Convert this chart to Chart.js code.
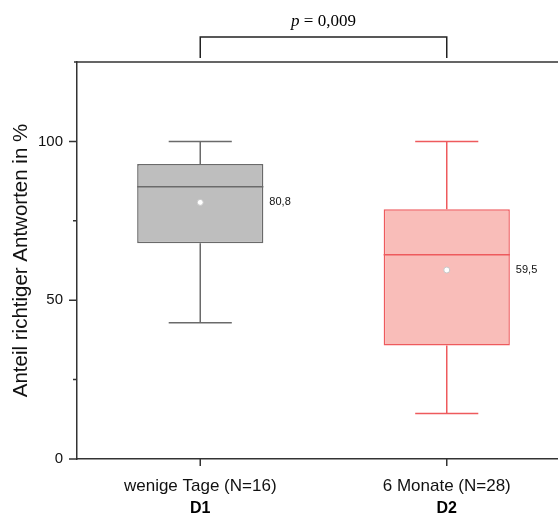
<!DOCTYPE html>
<html>
<head>
<meta charset="utf-8">
<script src="https://cdn.jsdelivr.net/npm/chart.js@4.4.1/dist/chart.umd.min.js"></script>
<style>
  html, body { margin: 0; padding: 0; background: #fff; overflow: hidden; }
  #wrap { width: 558px; height: 515px; overflow: hidden; }
</style>
</head>
<body>
<div id="wrap"><canvas id="myChart" width="575" height="515"></canvas></div>
<script>
const categories = ['wenige Tage (N=16)', '6 Monate (N=28)'];
const groups = ['D1', 'D2'];
const whiskerMin = [42.9, 14.3];
const q1 = [67.9, 35.7];
const median = [85.7, 64.3];
const q3 = [92.9, 78.6];
const whiskerMax = [100, 100];
const means = [80.8, 59.5];
const meanLabels = ['80,8', '59,5'];
const yTicks = [0, 25, 50, 75, 100, 125];
const yLabels = [0, 50, 100];

const fills = ['#bebebe', '#f9bdb9'];
const strokes = ['#6a6a6a', '#ee5a5d'];
const axisColor = '#333';
const sans = '"Liberation Sans", Arial, sans-serif';

const boxExtras = {
  id: 'boxExtras',
  afterDatasetsDraw(chart) {
    const { ctx, scales: { y } } = chart;
    const meta = chart.getDatasetMeta(0);
    ctx.save();
    meta.data.forEach((bar, i) => {
      const cx = bar.x;
      const half = bar.width / 2;
      const cap = bar.width / 4;
      ctx.strokeStyle = strokes[i];
      ctx.lineWidth = 1.5;
      ctx.beginPath();
      // whiskers
      ctx.moveTo(cx, y.getPixelForValue(q3[i]));
      ctx.lineTo(cx, y.getPixelForValue(whiskerMax[i]));
      ctx.moveTo(cx - cap, y.getPixelForValue(whiskerMax[i]));
      ctx.lineTo(cx + cap, y.getPixelForValue(whiskerMax[i]));
      ctx.moveTo(cx, y.getPixelForValue(q1[i]));
      ctx.lineTo(cx, y.getPixelForValue(whiskerMin[i]));
      ctx.moveTo(cx - cap, y.getPixelForValue(whiskerMin[i]));
      ctx.lineTo(cx + cap, y.getPixelForValue(whiskerMin[i]));
      // median
      ctx.moveTo(cx - half, y.getPixelForValue(median[i]));
      ctx.lineTo(cx + half, y.getPixelForValue(median[i]));
      ctx.stroke();
      // mean label
      ctx.fillStyle = '#111';
      ctx.font = '11px ' + sans;
      ctx.textAlign = 'left';
      ctx.textBaseline = 'middle';
      ctx.fillText(meanLabels[i], cx + half + 6, y.getPixelForValue(means[i]));
    });
    ctx.restore();
  },
  afterDraw(chart) {
    const { ctx, chartArea, scales: { x, y } } = chart;
    ctx.save();
    ctx.strokeStyle = axisColor;
    ctx.lineWidth = 1.5;
    ctx.beginPath();
    // top frame line
    ctx.moveTo(chartArea.left - 3, chartArea.top);
    ctx.lineTo(chart.width, chartArea.top);
    // y ticks
    yTicks.forEach(v => {
      if (v === 125) return;
      const py = y.getPixelForValue(v);
      const len = yLabels.includes(v) ? 8 : 4;
      ctx.moveTo(chartArea.left - len, py);
      ctx.lineTo(chartArea.left, py);
    });
    // x ticks
    categories.forEach((c, i) => {
      const px = x.getPixelForValue(i);
      ctx.moveTo(px, chartArea.bottom);
      ctx.lineTo(px, chartArea.bottom + 7);
    });
    ctx.stroke();

    // group names
    ctx.fillStyle = '#000';
    ctx.font = 'bold 16px ' + sans;
    ctx.textAlign = 'center';
    ctx.textBaseline = 'alphabetic';
    groups.forEach((g, i) => {
      ctx.fillText(g, x.getPixelForValue(i), 513);
    });

    // significance bracket
    const x0 = x.getPixelForValue(0);
    const x1 = x.getPixelForValue(1);
    ctx.strokeStyle = '#222';
    ctx.lineWidth = 1.5;
    ctx.beginPath();
    ctx.moveTo(x0, 58);
    ctx.lineTo(x0, 37);
    ctx.lineTo(x1, 37);
    ctx.lineTo(x1, 58);
    ctx.stroke();

    const serif = '"Liberation Serif", "Times New Roman", serif';
    const pPart = 'p';
    const rest = ' = 0,009';
    ctx.font = 'italic 17px ' + serif;
    const wP = ctx.measureText(pPart).width;
    ctx.font = '17px ' + serif;
    const wR = ctx.measureText(rest).width;
    const start = (x0 + x1) / 2 - (wP + wR) / 2;
    ctx.textAlign = 'left';
    ctx.textBaseline = 'alphabetic';
    ctx.fillStyle = '#000';
    ctx.font = 'italic 17px ' + serif;
    ctx.fillText(pPart, start, 26);
    ctx.font = '17px ' + serif;
    ctx.fillText(rest, start + wP, 26);
    ctx.restore();
  }
};

new Chart(document.getElementById('myChart'), {
  data: {
    labels: categories,
    datasets: [
      {
        type: 'bar',
        data: q1.map((v, i) => [v, q3[i]]),
        backgroundColor: fills,
        borderColor: strokes,
        borderWidth: 1.5,
        borderSkipped: false,
        barPercentage: 0.512,
        categoryPercentage: 1,
        order: 2
      },
      {
        type: 'line',
        data: means,
        showLine: false,
        pointRadius: 3,
        pointBackgroundColor: '#fff',
        pointBorderColor: '#c8c8c8',
        pointBorderWidth: 1,
        order: 1
      }
    ]
  },
  options: {
    responsive: false,
    animation: false,
    events: [],
    layout: { padding: { top: 62, left: 0, right: 0, bottom: 0 } },
    plugins: { legend: { display: false }, tooltip: { enabled: false } },
    scales: {
      x: {
        grid: { display: false, drawTicks: false },
        border: { display: true, color: axisColor, width: 1.5 },
        ticks: { color: '#111', font: { family: sans, size: 17 }, padding: 17, maxRotation: 0 },
        afterFit(scale) { scale.height = 56; }
      },
      y: {
        min: 0,
        max: 125,
        grid: { display: false, drawTicks: false },
        border: { display: true, color: axisColor, width: 1.5 },
        ticks: {
          stepSize: 25,
          padding: 14,
          color: '#111',
          font: { family: sans, size: 15 },
          callback: v => (yLabels.includes(v) ? v : '')
        },
        title: {
          display: true,
          text: 'Anteil richtiger Antworten in %',
          color: '#111',
          font: { family: sans, size: 20.5 },
          padding: { top: 9, bottom: 0 }
        },
        afterFit(scale) { scale.width = 77; }
      }
    }
  },
  plugins: [boxExtras]
});
</script>
</body>
</html>
